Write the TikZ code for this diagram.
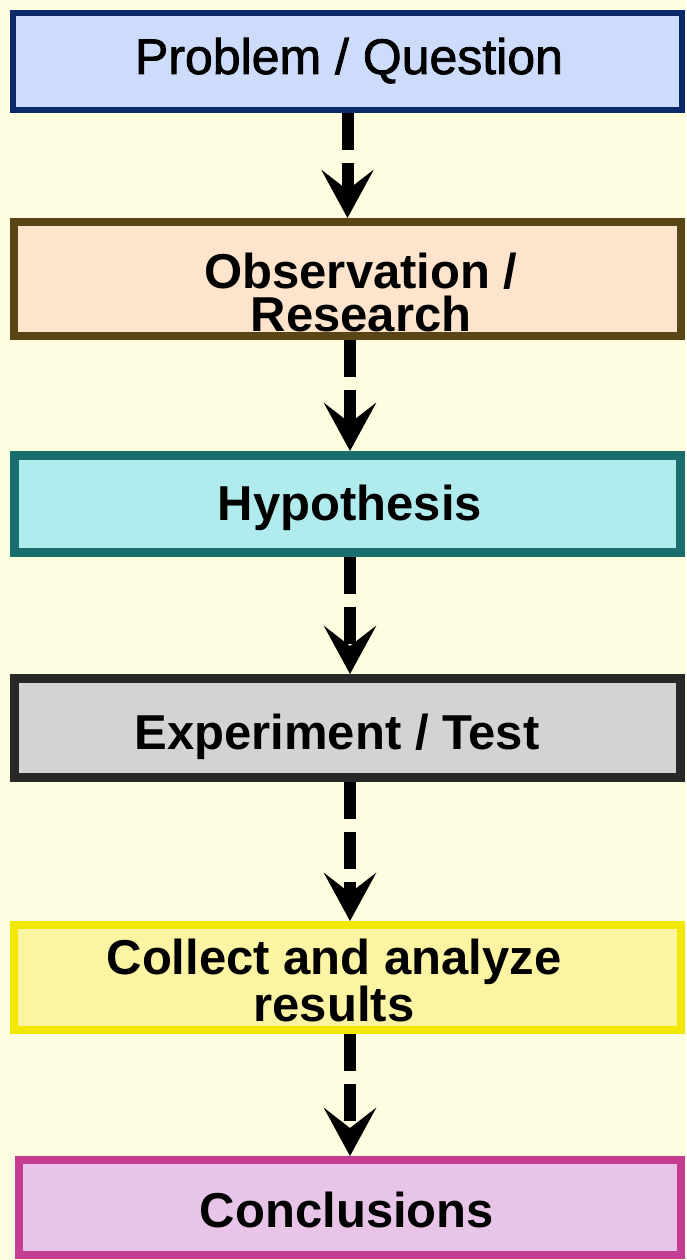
\documentclass[tikz,border=0pt]{standalone}
\usepackage{fontspec}
\setmainfont{Liberation Sans}
\newfontfamily\semibfont[FakeBold=1.6]{Liberation Sans}
\usetikzlibrary{arrows.meta}
\definecolor{bgc}{HTML}{FFFDE0}
\definecolor{b1d}{HTML}{0B2A6B}\definecolor{b1f}{HTML}{CDDCFB}
\definecolor{b2d}{HTML}{5A4516}\definecolor{b2f}{HTML}{FEE3CD}
\definecolor{b3d}{HTML}{1A6E6E}\definecolor{b3f}{HTML}{B0ECEE}
\definecolor{b4d}{HTML}{282828}\definecolor{b4f}{HTML}{D3D3D3}
\definecolor{b5d}{HTML}{F2E800}\definecolor{b5f}{HTML}{FBF5A3}
\definecolor{b6d}{HTML}{C43D92}\definecolor{b6f}{HTML}{E8C4E8}
\begin{document}
\begin{tikzpicture}[x=1pt,y=-1pt,
  box/.style={draw,rectangle,inner sep=0pt},
  lbl/.style={anchor=base,inner sep=0pt,align=center,font=\fontsize{49}{43}\selectfont\bfseries},
  flow/.style={line width=12pt,dash pattern=on 37pt off 13pt,
    -{Stealth[length=48pt,width=52pt,inset=20pt]}}]
\useasboundingbox (0,0) rectangle (686,1260);
\fill[bgc] (0,0) rectangle (686,1260);
\node[box,line width=6pt,draw=b1d,fill=b1f,minimum width=669pt,minimum height=97pt] (b1) at (347.5,61.5) {};
\node[box,line width=8pt,draw=b2d,fill=b2f,minimum width=667pt,minimum height=114pt] (b2) at (347.5,279) {};
\node[box,line width=9pt,draw=b3d,fill=b3f,minimum width=666pt,minimum height=97pt] (b3) at (347.5,504) {};
\node[box,line width=9pt,draw=b4d,fill=b4f,minimum width=666pt,minimum height=99pt] (b4) at (347.5,728) {};
\node[box,line width=8pt,draw=b5d,fill=b5f,minimum width=667pt,minimum height=105pt] (b5) at (347.5,977.5) {};
\node[box,line width=8pt,draw=b6d,fill=b6f,minimum width=662pt,minimum height=95pt] (b6) at (350,1207.5) {};
\node[lbl,font=\fontsize{50}{43}\selectfont\semibfont] (t1) at (349,74) {Problem / Question};
\node[lbl] (t2) at (361,331) {Observation /\\Research};
\node[lbl] (t3) at (350,520) {Hypothesis};
\node[lbl] (t4) at (337,749) {Experiment / Test};
\node[lbl] (t5) at (334,1021) {Collect and analyze\\results};
\node[lbl] (t6) at (347,1227) {Conclusions};
\draw[flow] (b1.south) -- (b2.north);
\draw[flow] ([xshift=2.5pt]b2.south) -- ([xshift=2.5pt]b3.north);
\draw[flow] ([xshift=2.5pt]b3.south) -- ([xshift=2.5pt]b4.north);
\draw[flow] ([xshift=2.5pt]b4.south) -- ([xshift=2.5pt]b5.north);
\draw[flow] ([xshift=2.5pt]b5.south) -- (b6.north);
\end{tikzpicture}
\end{document}
